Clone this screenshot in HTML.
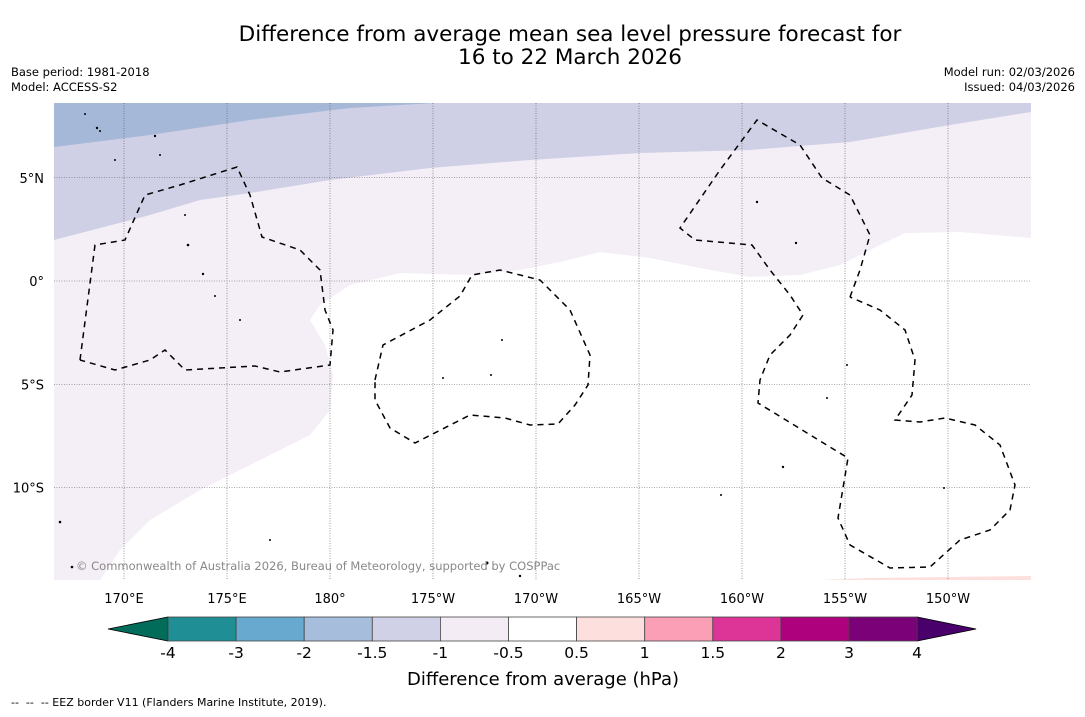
<!DOCTYPE html>
<html><head><meta charset="utf-8"><style>
body{margin:0;background:#fff;font-family:"DejaVu Sans","Liberation Sans",sans-serif;}
svg text{font-family:"DejaVu Sans","Liberation Sans",sans-serif;}
</style></head><body>
<svg id="chart" width="1085" height="713" viewBox="0 0 1085 713">
<text x="570" y="41" font-size="21.5" text-anchor="middle">Difference from average mean sea level pressure forecast for</text>
<text x="570" y="64" font-size="21.5" text-anchor="middle">16 to 22 March 2026</text>
<text x="11" y="76" font-size="11.5">Base period: 1981-2018</text>
<text x="11" y="91" font-size="11.5">Model: ACCESS-S2</text>
<text x="1075" y="76" font-size="11.5" text-anchor="end">Model run: 02/03/2026</text>
<text x="1075" y="91" font-size="11.5" text-anchor="end">Issued: 04/03/2026</text>
<defs><clipPath id="mc"><rect x="54" y="103" width="977" height="477"/></clipPath></defs>
<g clip-path="url(#mc)">
<rect x="54" y="103" width="977" height="477" fill="#fff"/>
<polygon fill="#f4eef6" points="54,103 1031,103 1031,238 960,232 905,233 880,245 840,265 800,275 750,277 700,268 650,258 600,252 560,262 520,270 470,275 400,273 350,285 320,305 310,320 325,345 333,375 330,410 310,435 270,455 200,490 150,520 120,550 100,580 54,580"/>
<polygon fill="#cfd0e5" points="54,103 1031,103 1031,112 950,125 850,142 750,150 640,153 530,160 430,168 330,180 250,193 200,200 150,215 100,228 54,240"/>
<polygon fill="#a5b8d8" points="54,103 435,103 350,108 250,120 150,135 54,147"/>
<polygon fill="#fde0dd" points="820,580 870,578 1031,576 1031,580"/>
<g id="grid" stroke="#555" stroke-width="0.6" stroke-dasharray="1,1.5"></g>
<g fill="none" stroke="#000" stroke-width="1.5" stroke-dasharray="6,5">
<polyline points="80,360 95,245 125,240 145,195 180,185 237,167 250,195 262,237 300,250 320,270 325,310 333,330 330,365 280,372 255,366 185,370 165,350 150,360 115,370 80,360"/>
<polyline points="375,380 383,345 430,320 460,296 472,275 500,270 540,280 570,310 590,355 588,385 575,405 558,424 530,425 505,418 470,415 415,443 390,428 375,400 375,380"/>
<polyline points="850,297 860,270 870,235 850,195 822,178 800,145 757,120 720,170 680,228 695,240 752,245 770,270 790,295 803,315 790,335 770,355 760,380 758,403 848,458 838,518 850,545 890,568 930,567 960,540 990,530 1010,510 1015,485 1000,445 975,425 945,418 920,422 895,420 912,395 915,360 905,330 880,310 850,297"/>
</g>
<g fill="#000">
<circle cx="85" cy="114" r="1"/><circle cx="97" cy="128" r="1.2"/><circle cx="100" cy="131" r="1"/><circle cx="155" cy="136" r="1.2"/><circle cx="160" cy="155" r="1"/><circle cx="115" cy="160" r="1"/><circle cx="185" cy="215" r="1"/><circle cx="188" cy="245" r="1.3"/><circle cx="203" cy="274" r="1.2"/><circle cx="215" cy="296" r="1"/><circle cx="240" cy="320" r="1"/><circle cx="502" cy="340" r="1"/><circle cx="443" cy="378" r="1"/><circle cx="491" cy="375" r="1"/><circle cx="757" cy="202" r="1.2"/><circle cx="796" cy="243" r="1.2"/><circle cx="783" cy="467" r="1.2"/><circle cx="721" cy="495" r="1"/><circle cx="60" cy="522" r="1.3"/><circle cx="72" cy="567" r="1.3"/><circle cx="487" cy="563" r="1.5"/><circle cx="520" cy="576" r="1.2"/><circle cx="847" cy="365" r="1"/><circle cx="827" cy="398" r="1"/><circle cx="944" cy="488" r="1"/><circle cx="270" cy="540" r="1"/></g>
<text x="76" y="570" font-size="11.5" fill="#888">© Commonwealth of Australia 2026, Bureau of Meteorology, supported by COSPPac</text>
</g>
<g id="axes" font-size="13"></g>
<g id="cbar"></g>
<text x="543" y="685" font-size="18" text-anchor="middle">Difference from average (hPa)</text>
<text x="11" y="706" font-size="11" xml:space="preserve" style="white-space:pre">--  --  -- EEZ border V11 (Flanders Marine Institute, 2019).</text>
</svg>
<script>
const lonTicks=[170,175,180,185,190,195,200,205,210];
const lonLabels=["170°E","175°E","180°","175°W","170°W","165°W","160°W","155°W","150°W"];
const latTicks=[5,0,-5,-10];
const latLabels=["5°N","0°","5°S","10°S"];
const levels=["-4","-3","-2","-1.5","-1","-0.5","0.5","1","1.5","2","3","4"];
const levelColors=["#1f8f95","#67a9cf","#a6bddb","#d0d1e6","#f3ecf5","#ffffff","#fde0dd","#fa9fb5","#dd3497","#ae017e","#7a0177"];
const underColor="#016c59", overColor="#49006a";
const NS="http://www.w3.org/2000/svg";
const xLon=l=>124+(l-170)*20.6;
const yLat=l=>281-l*20.65;
const grid=document.getElementById('grid'),axes=document.getElementById('axes'),cb=document.getElementById('cbar');
function mk(t,a,p){const e=document.createElementNS(NS,t);for(const k in a)e.setAttribute(k,a[k]);p.appendChild(e);return e;}
lonTicks.forEach((l,i)=>{const x=xLon(l);
 const g=mk('line',{x1:x,x2:x,y1:103,y2:580},grid);
 
 
 const t=mk('text',{x:x,y:603,'text-anchor':'middle'},axes);t.textContent=lonLabels[i];
 
 });
latTicks.forEach((l,i)=>{const y=yLat(l);
 const g=mk('line',{x1:54,x2:1031,y1:y,y2:y},grid);
 
 
 const t=mk('text',{x:44,y:y+5,'text-anchor':'end'},axes);t.textContent=latLabels[i];
 
 });
const cx0=168,cw=68.1,cy=617,ch=24,n=levelColors.length;
const u=mk('polygon',{points:`${cx0},${cy} ${cx0},${cy+ch} 108,${cy+ch/2}`,fill:underColor,stroke:'#000','stroke-width':0.8},cb);


const ex=cx0+n*cw;
const o=mk('polygon',{points:`${ex},${cy} ${ex},${cy+ch} ${ex+59},${cy+ch/2}`,fill:overColor,stroke:'#000','stroke-width':0.8},cb);


levelColors.forEach((c,i)=>{const r=mk('rect',{x:cx0+i*cw,y:cy,width:cw,height:ch,fill:c,stroke:'#444','stroke-width':0.8},cb);
 
 });
levels.forEach((l,i)=>{const t=mk('text',{x:cx0+i*cw,y:658,'font-size':15.5,'text-anchor':'middle'},cb);t.textContent=l;
 
 });
</script>
</body></html>
